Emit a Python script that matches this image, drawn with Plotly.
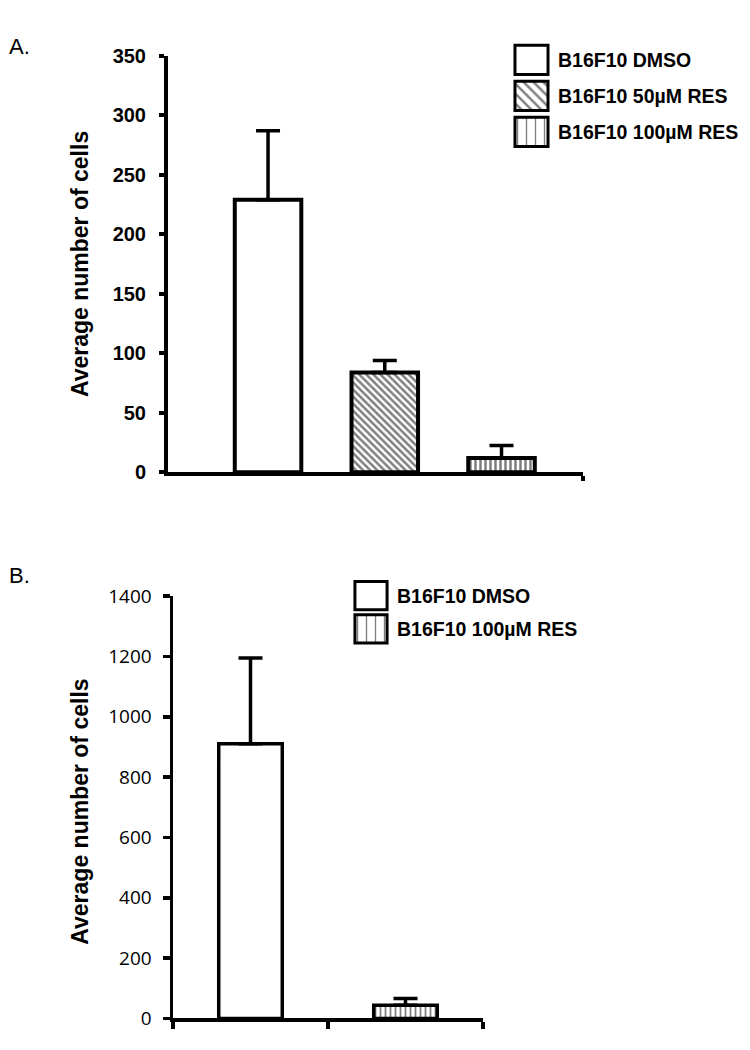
import plotly.graph_objects as go

# ---------------- data ----------------
groups_a = ["B16F10 DMSO", "B16F10 50µM RES", "B16F10 100µM RES"]
means_a = [229, 84, 12]
errors_a = [58, 10, 10.5]
patterns_a = ["", "\\", "|"]

groups_b = ["B16F10 DMSO", "B16F10 100µM RES"]
means_b = [911, 44]
errors_b = [284, 22]
patterns_b = ["", "|"]

yticks_a = [0, 50, 100, 150, 200, 250, 300, 350]
yticks_b = [0, 200, 400, 600, 800, 1000, 1200, 1400]

W, H = 750, 1050
def px_x(p):
    return p / W
def px_y(p):
    return 1 - p / H

BOLD = dict(family="Liberation Sans, Arial, sans-serif", color="black", weight="bold")
fig = go.Figure()

# ---------------- panel A ----------------
xa = list(range(len(groups_a)))
fig.add_trace(go.Bar(
    x=xa, y=means_a, width=0.57, xaxis="x", yaxis="y",
    marker=dict(color="white", line=dict(color="black", width=4),
                pattern=dict(shape=patterns_a, fgcolor="black", bgcolor="white",
                             size=5, solidity=0.5)),
    error_y=dict(type="data", symmetric=False, array=errors_a,
                 arrayminus=[0] * len(errors_a), color="black",
                 thickness=3.5, width=12),
    showlegend=False, hoverinfo="skip"))

# legend swatches A
fig.add_trace(go.Bar(
    y=list(range(len(groups_a))), x=[1] * len(groups_a), orientation="h",
    width=0.81, xaxis="x3", yaxis="y3",
    marker=dict(color="white", line=dict(color="black", width=3),
                pattern=dict(shape=patterns_a, fgcolor="black", bgcolor="white",
                             size=[7, 7, 9], solidity=[0.35, 0.35, 0.15])),
    showlegend=False, hoverinfo="skip"))

# ---------------- panel B ----------------
xb = list(range(len(groups_b)))
fig.add_trace(go.Bar(
    x=xb, y=means_b, width=0.41, xaxis="x2", yaxis="y2",
    marker=dict(color="white", line=dict(color="black", width=3.5),
                pattern=dict(shape=patterns_b, fgcolor="black", bgcolor="white",
                             size=5, solidity=0.35)),
    error_y=dict(type="data", symmetric=False, array=errors_b,
                 arrayminus=[0] * len(errors_b), color="black",
                 thickness=3.5, width=12),
    showlegend=False, hoverinfo="skip"))

# legend swatches B
fig.add_trace(go.Bar(
    y=list(range(len(groups_b))), x=[1] * len(groups_b), orientation="h",
    width=0.85, xaxis="x4", yaxis="y4",
    marker=dict(color="white", line=dict(color="black", width=3),
                pattern=dict(shape=patterns_b, fgcolor="black", bgcolor="white",
                             size=9, solidity=0.15)),
    showlegend=False, hoverinfo="skip"))

fig.update_layout(
    width=W, height=H,
    margin=dict(l=0, r=0, t=0, b=0),
    paper_bgcolor="white", plot_bgcolor="white",
    showlegend=False,
    bargap=0,
    # panel A axes
    xaxis=dict(domain=[px_x(168), px_x(583)], range=[-0.857, 2.698],
               showline=True, linecolor="black", linewidth=4,
               showgrid=False, zeroline=False,
               tickmode="array", tickvals=[2.698], ticktext=[""],
               ticks="outside", ticklen=5, tickwidth=3.5, tickcolor="black",
               anchor="y", fixedrange=True),
    yaxis=dict(domain=[px_y(471), px_y(44)], range=[0, 350],
               showline=True, linecolor="black", linewidth=4,
               showgrid=False, zeroline=False,
               tickmode="array", tickvals=yticks_a,
               ticks="outside", ticklen=5, tickwidth=4, tickcolor="black",
               tickfont=dict(size=20, **BOLD), ticklabelstandoff=9,
               anchor="x", fixedrange=True),
    # panel B axes
    xaxis2=dict(domain=[px_x(173), px_x(483)], range=[-0.5, 1.5],
                showline=True, linecolor="black", linewidth=3.5,
                showgrid=False, zeroline=False,
                tickmode="array", tickvals=[-0.5, 0.5, 1.5], ticktext=["", "", ""],
                ticks="outside", ticklen=7, tickwidth=3.5, tickcolor="black",
                anchor="y2", fixedrange=True),
    yaxis2=dict(domain=[px_y(1031), px_y(598)], range=[0, 1400],
                showline=True, linecolor="black", linewidth=3.5,
                showgrid=False, zeroline=False,
                tickmode="array", tickvals=yticks_b,
                ticks="outside", ticklen=7, tickwidth=3.5, tickcolor="black",
                tickfont=dict(family="Open Sans, sans-serif", size=19, color="black"),
                ticklabelstandoff=7,
                anchor="x2", fixedrange=True),
    # legend A axes
    xaxis3=dict(domain=[px_x(513), px_x(550)], range=[-0.06, 1.06],
                visible=False, anchor="y3", fixedrange=True),
    yaxis3=dict(domain=[px_y(140.5), px_y(29.5)], range=[2.5, -0.5],
                side="right", anchor="x3", showline=False, showgrid=False,
                zeroline=False, ticks="", tickmode="array",
                tickvals=list(range(len(groups_a))), ticktext=groups_a,
                tickfont=dict(size=19.5, **BOLD), ticklabelstandoff=7,
                fixedrange=True),
    # legend B axes
    xaxis4=dict(domain=[px_x(353), px_x(389)], range=[-0.06, 1.06],
                visible=False, anchor="y4", fixedrange=True),
    yaxis4=dict(domain=[px_y(648.5), px_y(580.5)], range=[1.5, -0.5],
                side="right", anchor="x4", showline=False, showgrid=False,
                zeroline=False, ticks="", tickmode="array",
                tickvals=list(range(len(groups_b))), ticktext=groups_b,
                tickfont=dict(size=19.5, **BOLD), ticklabelstandoff=7,
                fixedrange=True),
    annotations=[
        dict(text="A.", x=px_x(7), y=px_y(34), xref="paper", yref="paper",
             xanchor="left", yanchor="middle", showarrow=False,
             font=dict(family="Liberation Sans, Arial, sans-serif", size=22, color="black")),
        dict(text="B.", x=px_x(7), y=px_y(577), xref="paper", yref="paper",
             xanchor="left", yanchor="middle", showarrow=False,
             font=dict(family="Liberation Sans, Arial, sans-serif", size=22, color="black")),
        dict(text="Average number of cells", x=px_x(80), y=px_y(257.5),
             xref="paper", yref="paper", xanchor="center", yanchor="middle",
             textangle=-90, showarrow=False, font=dict(size=23, **BOLD)),
        dict(text="Average number of cells", x=px_x(80), y=px_y(819),
             xref="paper", yref="paper", xanchor="center", yanchor="middle",
             textangle=-90, showarrow=False, font=dict(size=23, **BOLD)),
    ],
)

fig.write_html("out.html",
               config={"displayModeBar": False, "staticPlot": True},
               post_script="document.body.style.margin='0';document.body.style.overflow='hidden';")
